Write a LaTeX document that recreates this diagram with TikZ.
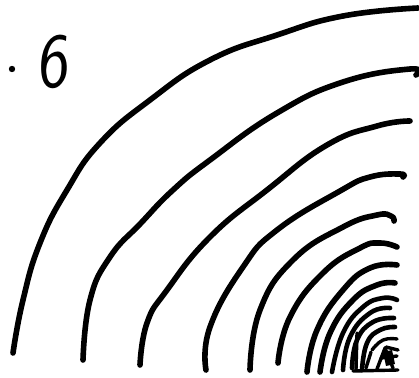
\documentclass[tikz,border=0pt]{standalone}
\begin{document}
\begin{tikzpicture}[x=1pt,y=-1pt,
  wave/.style={line width=5.6pt,line cap=round,line join=round},
  thinwave/.style={line width=4.6pt,line cap=round,line join=round},
  scrib/.style={line width=3.4pt,line cap=round,line join=round}]
\useasboundingbox (0,0) rectangle (419,377);
% label
\node[anchor=base west,inner sep=0pt,font=\sffamily\fontsize{78}{78}\selectfont,xscale=0.85,xslant=0.08] (lbl) at (37,88) {6};
\fill (12,69) circle (3.2pt);
% arcs
\draw[wave] plot[smooth,tension=0.8] coordinates {(13,353) (23,300) (40,243) (67,190) (100,143) (150,100) (210,60) (277,35) (343,16) (418,8)};
\draw[wave] plot[smooth,tension=0.8] coordinates {(83,360) (90,300) (110,257) (141,223) (173,190) (210,160) (277,113) (343,82) (410,69) (416,75)};
\draw[wave] plot[smooth,tension=0.8] coordinates {(140,365) (147,323) (167,290) (210,237) (267,190) (327,145) (377,126) (410,121)};
\draw[wave] plot[smooth,tension=0.8] coordinates {(206,370) (210,327) (243,267) (277,230) (340,191) (370,177) (400,174) (403,177)};
\draw[wave] plot[smooth,tension=0.8] coordinates {(250,370) (260,310) (293,260) (343,227) (377,215) (391,216) (394,221)};
\draw[wave] plot[smooth,tension=0.8] coordinates {(278,363) (290,317) (323,273) (360,248) (380,243) (397,247)};
\draw[wave] plot[smooth,tension=0.8] coordinates {(307,372) (317,330) (343,290) (370,268) (397,265)};
\draw[wave] plot[smooth,tension=0.8] coordinates {(320,372) (330,333) (353,300) (377,285) (395,283)};
\draw[thinwave] plot[smooth,tension=0.8] coordinates {(332,372) (343,333) (363,307) (383,298) (397,300)};
\draw[thinwave] plot[smooth,tension=0.8] coordinates {(343,370) (350,337) (370,313) (390,308)};
\draw[thinwave] plot[smooth,tension=0.8] coordinates {(352,368) (357,340) (373,322) (394,318)};
\draw[thinwave] plot[smooth,tension=0.8] coordinates {(362,370) (367,343) (380,330) (395,327)};
\draw[scrib] plot[smooth,tension=0.8] coordinates {(372,350) (383,340) (397,339)};
% scribble
\draw[scrib] (357,333) -- (356,370);
\draw[scrib] (353,371) -- (398,370);
\draw[scrib] (377,369) -- (385,348) -- (393,368);
\draw[scrib] (381,358) -- (397,356);
\draw[scrib] (386,347) -- (398,350);
\draw[scrib] (366,368) -- (371,352);
\fill (383,352) -- (392,350) -- (395,364) -- (386,366) -- cycle;
\end{tikzpicture}
\end{document}
